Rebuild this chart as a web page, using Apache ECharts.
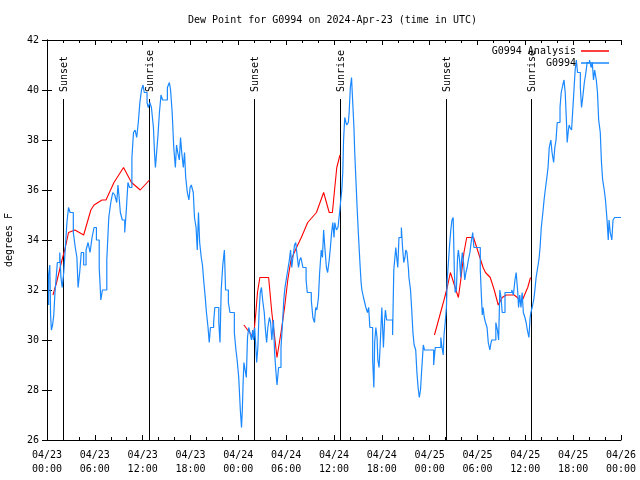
<!DOCTYPE html>
<html>
<head>
<meta charset="utf-8">
<script src="https://cdn.jsdelivr.net/npm/echarts@6/dist/echarts.min.js"></script>
<style>html,body{margin:0;padding:0;background:#fff}#c{width:640px;height:480px}</style>
</head>
<body>
<div id="c"></div>
<script>
const titleText = 'Dew Point for G0994 on 2024-Apr-23 (time in UTC)';
const xTickLabels = ['04/23\n00:00','04/23\n06:00','04/23\n12:00','04/23\n18:00','04/24\n00:00','04/24\n06:00','04/24\n12:00','04/24\n18:00','04/25\n00:00','04/25\n06:00','04/25\n12:00','04/25\n18:00','04/26\n00:00'];
const sunHours = [2.0, 12.85, 26.0, 36.8, 50.0, 60.7];
const sunLabels = ['Sunset','Sunrise','Sunset','Sunrise','Sunset','Sunrise'];

const blueHours = [0.2,0.35,0.45,0.55,0.7,0.85,1.0,1.1,1.3,1.6,1.75,1.9,2.1,2.3,2.5,2.7,2.9,3.3,3.55,3.75,3.9,4.1,4.3,4.6,4.9,5.15,5.4,5.65,5.9,6.2,6.55,6.75,6.95,7.5,7.75,8.0,8.25,8.5,8.75,8.9,9.05,9.2,9.45,9.75,9.95,10.15,10.35,10.65,10.85,11.05,11.25,11.45,11.65,11.85,12.05,12.2,12.55,12.7,12.9,13.1,13.35,13.5,13.6,13.75,13.9,14.1,14.3,14.5,15.1,15.35,15.5,15.7,15.9,16.1,16.25,16.4,16.6,16.75,16.9,17.1,17.25,17.4,17.6,17.8,17.95,18.1,18.35,18.5,18.7,18.85,19.0,19.15,19.35,19.5,19.65,19.85,20.0,20.2,20.35,20.5,20.9,21.05,21.55,21.7,21.85,22.05,22.25,22.4,22.75,22.95,23.5,23.7,23.85,24.05,24.25,24.4,24.5,24.6,24.7,24.8,25.0,25.15,25.3,25.45,25.65,25.8,25.9,26.05,26.2,26.3,26.45,26.6,26.75,26.9,27.05,27.25,27.4,27.55,27.7,27.9,28.05,28.2,28.4,28.55,28.7,28.85,29.05,29.35,29.55,29.7,29.85,30.05,30.2,30.4,30.55,30.7,30.85,31.05,31.2,31.4,31.55,31.7,31.85,32.1,32.5,32.65,33.15,33.35,33.55,33.7,33.85,34.05,34.2,34.4,34.55,34.7,34.85,35.05,35.2,35.4,35.55,35.7,35.85,36.0,36.1,36.3,36.5,36.7,36.85,36.98,37.1,37.2,37.35,37.5,37.6,37.8,37.9,38.05,38.2,38.35,38.5,38.6,38.75,38.9,39.05,39.25,39.4,39.5,39.7,39.85,40.0,40.2,40.35,40.5,40.85,41.0,41.1,41.25,41.4,41.5,41.65,41.75,42.0,42.05,42.2,42.35,42.45,42.6,43.35,43.5,43.75,43.9,44.0,44.15,44.45,44.6,44.75,44.9,45.0,45.15,45.35,45.4,45.6,45.75,45.9,46.05,46.25,46.4,46.55,46.7,46.85,47.0,47.2,47.35,48.5,48.7,49.4,49.55,49.7,49.8,49.95,50.1,50.2,50.35,50.5,50.65,50.8,50.95,51.1,51.2,51.35,51.5,51.6,51.75,51.9,52.0,52.1,52.25,52.4,52.55,52.7,52.85,53.05,53.2,53.4,53.55,54.35,54.5,54.6,54.7,54.85,55.0,55.2,55.35,55.55,55.7,55.8,56.3,56.5,56.65,56.8,56.95,57.1,57.45,58.3,58.5,58.7,58.85,59.05,59.15,59.3,59.45,59.6,59.75,59.95,60.1,60.25,60.45,60.6,60.7,60.85,61.05,61.2,61.35,61.55,61.7,61.85,62.0,62.2,62.35,62.5,62.7,62.85,63.0,63.2,63.35,63.55,63.7,63.85,64.0,64.35,64.5,64.7,64.85,65.0,65.15,65.25,65.4,65.5,65.6,65.8,65.95,66.1,66.25,66.4,66.55,66.9,67.05,67.2,67.4,67.6,67.75,68.05,68.25,68.4,68.55,68.7,68.9,69.05,69.2,69.4,69.55,69.7,69.9,70.05,70.25,70.4,70.5,70.65,70.85,71.0,71.2,71.35,72.0];
const blueValues = [31.4,32.6,33.0,31.0,30.4,30.6,31.0,31.9,32.3,33.1,33.5,32.5,32.1,32.7,33.7,34.7,35.3,35.1,34.3,33.7,33.3,32.1,32.7,33.5,33.0,33.6,33.9,33.5,34.1,34.5,34.0,32.9,31.6,32.0,33.2,34.9,35.5,35.9,35.8,35.5,36.2,35.7,35.1,34.8,34.3,35.2,36.3,36.1,37.3,38.3,38.4,38.1,38.7,39.5,40.0,40.2,39.9,39.5,39.3,39.5,39.3,38.5,37.4,36.9,37.5,38.1,39.1,39.8,39.6,40.1,40.3,40.0,39.1,37.7,36.9,37.8,37.5,37.2,38.1,37.5,36.9,37.5,36.5,35.9,35.6,36.1,36.2,35.9,34.9,34.5,33.6,35.1,33.9,33.3,33.0,32.4,31.7,31.1,30.5,29.9,30.5,30.7,31.3,30.7,29.9,32.0,33.0,33.6,32.0,31.5,31.1,30.3,29.6,29.2,28.5,27.2,26.5,27.2,28.3,29.1,28.9,28.5,30.1,30.5,30.3,30.0,30.4,30.0,30.5,29.7,29.1,29.7,31.1,31.9,32.1,31.6,31.1,30.4,29.9,30.5,30.9,30.7,30.0,30.8,29.5,28.8,28.2,28.9,29.7,30.7,31.6,32.1,32.5,32.8,33.2,33.6,32.9,33.3,33.8,33.9,33.3,32.9,33.2,33.3,32.9,32.4,31.9,31.6,30.9,30.7,31.3,31.2,31.7,32.7,33.6,33.3,34.4,33.7,32.9,32.7,33.2,33.7,34.3,34.7,34.1,34.7,34.4,34.5,35.1,35.6,36.0,36.7,38.0,38.9,38.7,38.6,38.7,39.1,40.1,40.5,39.5,38.5,37.5,36.4,35.3,34.3,33.1,32.3,32.0,31.7,31.5,31.3,31.1,31.3,30.5,29.2,28.1,29.9,30.5,30.1,29.2,28.9,29.5,31.3,30.9,29.7,30.8,31.2,30.8,30.2,32.8,33.7,33.2,32.9,34.1,34.5,33.7,33.1,33.3,33.6,33.5,32.8,32.5,32.0,31.2,30.3,29.8,29.6,28.7,28.1,27.7,28.0,28.8,29.8,29.6,29.0,29.7,30.1,29.7,29.4,30.2,30.7,31.3,32.4,33.1,33.8,34.4,34.8,34.9,32.7,31.9,32.0,33.3,33.6,33.2,32.5,33.2,33.5,33.1,32.4,32.7,32.9,33.2,33.5,33.9,34.3,33.7,32.8,31.7,31.0,31.3,30.9,30.7,30.5,29.9,29.6,29.9,30.0,30.7,30.4,30.0,32.0,31.7,31.1,31.9,32.0,31.8,32.4,32.7,31.9,31.3,31.8,31.3,31.9,31.1,30.9,30.7,30.4,30.1,30.9,31.1,31.3,31.6,32.0,32.5,32.9,33.2,33.7,34.5,35.1,35.6,36.0,36.5,36.9,37.7,38.0,37.5,37.1,37.7,38.0,38.7,39.3,39.9,40.2,40.4,39.9,38.8,37.9,38.4,38.6,38.5,38.4,39.2,40.0,40.8,41.2,40.7,40.1,39.3,39.7,40.3,40.7,41.1,41.2,40.9,41.1,40.4,40.8,40.4,39.9,38.8,38.3,37.1,36.4,36.0,35.6,34.8,34.0,34.8,34.3,34.0,34.8,34.9,34.9];

const redHours = [0.75,1.2,1.8,2.3,2.7,3.5,4.6,5.5,5.9,6.9,7.4,8.4,9.6,10.6,11.7,12.85,18.0,24.7,25.4,25.9,26.2,26.4,26.7,27.8,28.2,28.6,28.85,29.4,29.8,30.2,30.6,31.3,31.9,32.7,33.8,34.7,35.4,35.8,36.1,36.35,36.75,42.0,48.6,49.2,49.8,50.2,50.6,50.9,51.3,51.6,51.9,52.3,52.65,53.5,54.0,54.4,54.7,55.0,55.6,56.1,56.6,57.1,57.6,58.6,59.0,59.5,59.9,60.3,60.65];
const redValues = [31.8,32.3,33.1,33.7,34.3,34.4,34.2,35.2,35.4,35.6,35.6,36.3,36.9,36.3,36.0,36.4,null,30.6,30.3,30.1,31.1,31.9,32.5,32.5,31.1,30.0,29.3,30.4,31.3,32.4,33.2,33.7,34.1,34.7,35.1,35.9,35.1,35.1,36.1,36.9,37.4,null,30.2,30.9,31.6,32.1,32.7,32.4,32.0,31.7,32.4,33.5,34.1,34.1,33.6,33.2,32.9,32.7,32.5,32.0,31.4,31.7,31.8,31.8,31.7,31.5,31.8,32.1,32.5];

const FONT = 'DejaVu Sans Mono';
const chart = echarts.init(document.getElementById('c'), null, {renderer: 'canvas'});

const blueData = blueHours.map((h, i) => [h, blueValues[i]]);
const redData = redHours.map((h, i) => [h, redValues[i] === null ? '-' : redValues[i]]);

const xAxisCommon = {
  type: 'value', min: 0, max: 72, interval: 6,
  axisLine: {show: true, lineStyle: {color: '#000', width: 1}},
  axisTick: {show: true, inside: true, length: 5, lineStyle: {color: '#000'}},
  minorTick: {show: true, splitNumber: 3, length: 3, lineStyle: {color: '#000'}},
  splitLine: {show: false}
};
const yAxisCommon = {
  type: 'value', min: 26, max: 42, interval: 2,
  axisLine: {show: true, lineStyle: {color: '#000', width: 1}},
  axisTick: {show: true, inside: true, length: 5, lineStyle: {color: '#000'}},
  splitLine: {show: false}
};

chart.setOption({
  animation: false,
  backgroundColor: '#fff',
  title: {
    text: titleText, left: 183, top: 10,
    textStyle: {fontFamily: FONT, fontSize: 10, fontWeight: 'normal', color: '#000'}
  },
  legend: {
    orient: 'vertical', right: 26, top: 41, align: 'right',
    itemWidth: 28, itemHeight: 1.5, itemGap: 2, icon: 'rect',
    textStyle: {fontFamily: FONT, fontSize: 10, color: '#000'},
    data: ['G0994 Analysis', 'G0994']
  },
  grid: {left: 47, right: 19, top: 40, bottom: 40, containLabel: false, outerBoundsMode: 'none'},
  xAxis: [
    Object.assign({}, xAxisCommon, {
      position: 'bottom',
      axisLabel: {
        show: true, margin: 8, color: '#000', fontFamily: FONT, fontSize: 10, lineHeight: 14,
        showMinLabel: true, showMaxLabel: true,
        formatter: v => xTickLabels[Math.round(v / 6)]
      }
    }),
    Object.assign({}, xAxisCommon, {position: 'top', axisLabel: {show: false}})
  ],
  yAxis: [
    Object.assign({}, yAxisCommon, {
      position: 'left',
      name: 'degrees F', nameLocation: 'middle', nameGap: 33, nameRotate: 90,
      nameTextStyle: {fontFamily: FONT, fontSize: 10, color: '#000'},
      axisLabel: {show: true, margin: 8, color: '#000', fontFamily: FONT, fontSize: 10}
    }),
    Object.assign({}, yAxisCommon, {position: 'right', axisLabel: {show: false}})
  ],
  series: [
    {
      type: 'custom', name: 'sun', xAxisIndex: 0, yAxisIndex: 0,
      data: sunHours.map(h => [h]),
      encode: {x: 0},
      silent: true, z: 1,
      renderItem: function (params, api) {
        const h = api.value(0);
        const top = api.coord([h, 39.64]);
        const bot = api.coord([h, 26]);
        const lx = Math.round(top[0]) + 0.5;
        return {
          type: 'group',
          children: [
            {type: 'line', shape: {x1: lx, y1: top[1], x2: lx, y2: bot[1]},
             style: {stroke: '#000', lineWidth: 1}},
            {type: 'text', x: lx + 1, y: top[1] - 7, rotation: Math.PI / 2,
             style: {text: sunLabels[params.dataIndex], fill: '#000',
                     font: '10px "' + FONT + '"', align: 'left', verticalAlign: 'middle'}}
          ]
        };
      }
    },
    {
      type: 'line', name: 'G0994 Analysis', data: redData,
      symbol: 'none', connectNulls: false, z: 2,
      itemStyle: {color: '#ff0000'},
      lineStyle: {color: '#ff0000', width: 1.1}
    },
    {
      type: 'line', name: 'G0994', data: blueData, step: 'start',
      symbol: 'none', z: 3,
      itemStyle: {color: '#1a88ff'},
      lineStyle: {color: '#1a88ff', width: 1.2}
    }
  ]
});
</script>
</body>
</html>
